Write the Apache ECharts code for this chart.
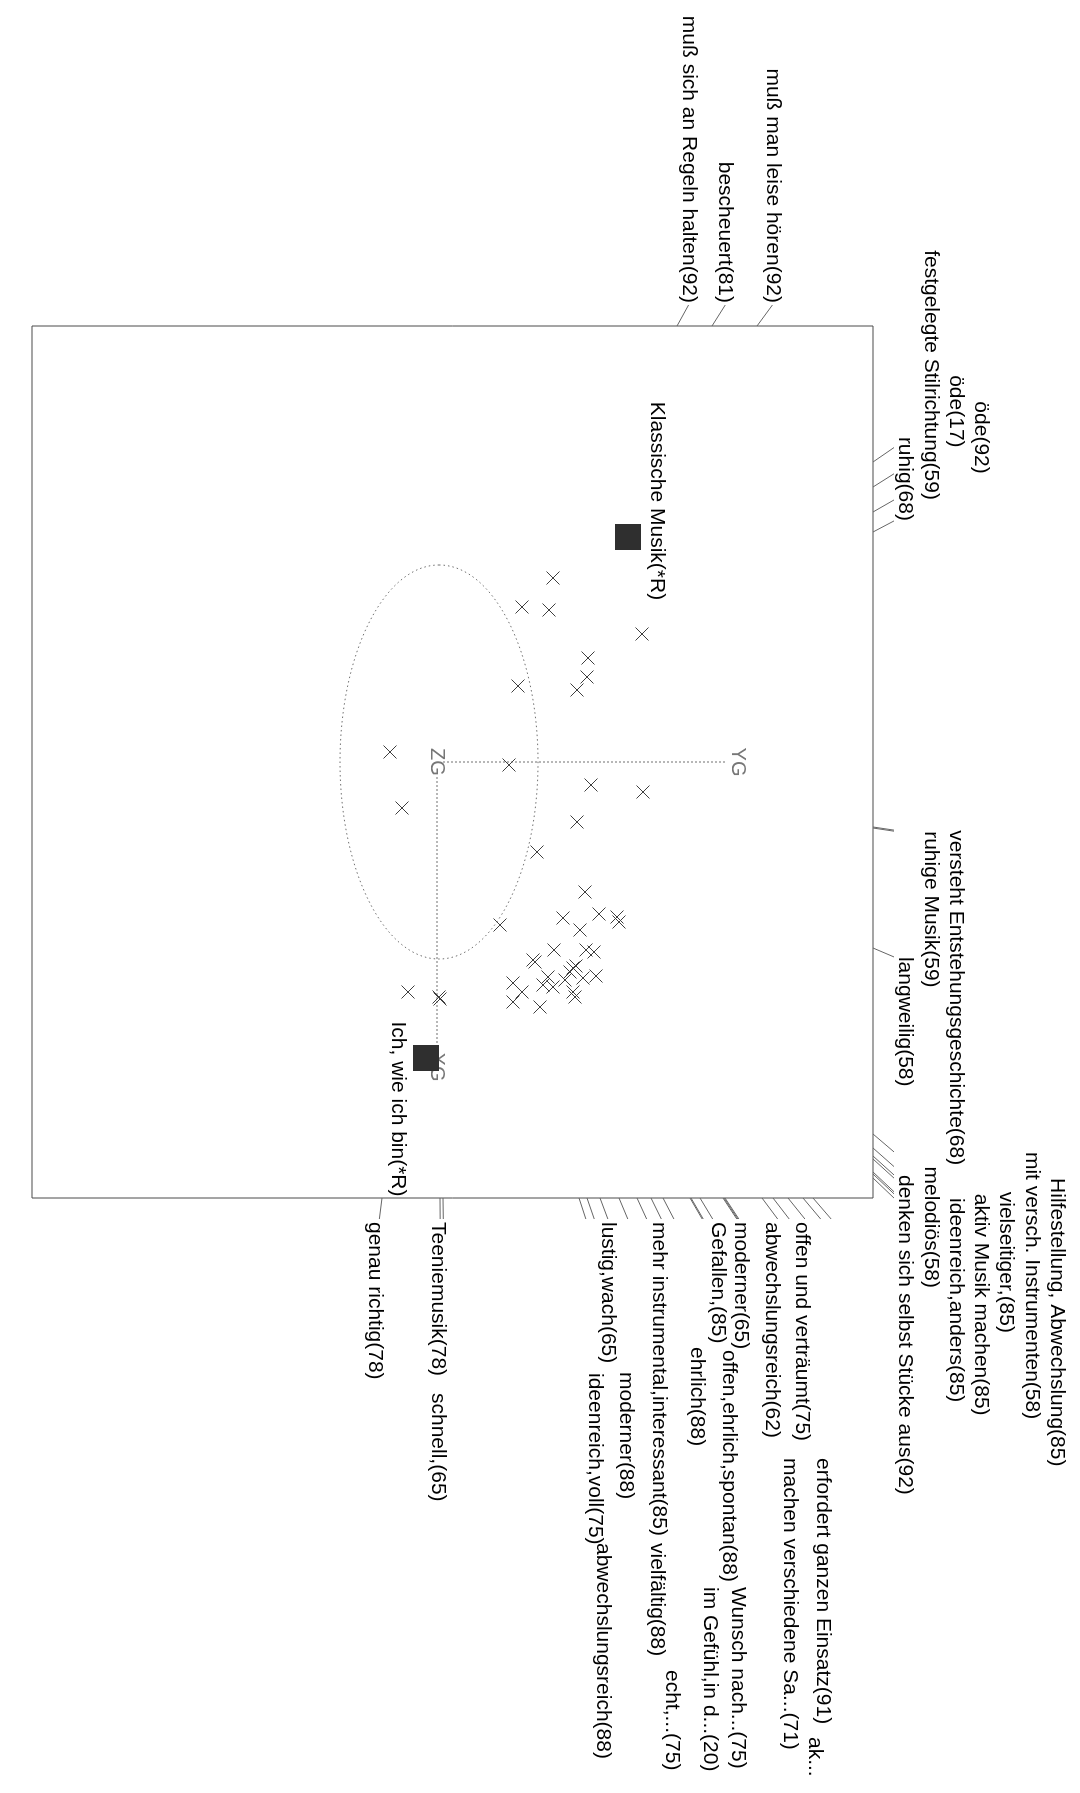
<!DOCTYPE html>
<html>
<head>
<meta charset="utf-8">
<title>Repertory grid – Musik</title>
<script src="https://cdn.jsdelivr.net/npm/echarts@6/dist/echarts.min.js"></script>
<style>
  html, body { margin: 0; padding: 0; background: #ffffff; overflow: hidden; width: 1080px; height: 1793px; }
  /* the plot is laid out landscape and turned a quarter clockwise onto the portrait page */
  #chart { position: absolute; left: 1080px; top: 0; width: 1793px; height: 1080px;
           transform-origin: 0 0; transform: rotate(90deg); }
</style>
</head>
<body>
<div id="chart"></div>
<script>
// ---- data -------------------------------------------------------------

// extent of the frame, in axis units
const frameX = 4.36;
const frameTop = 4.36;
const frameBottom = -4.05;

// elements (marked with *R)
const elementNames = ['Klassische Musik(*R)', 'Ich, wie ich bin(*R)'];
const elementX = [-2.25, 2.96];
const elementY = [1.91, -0.11];

// constructs, drawn as crosses
const constructX = [-1.84, -1.55, -1.52, -1.28, -1.04, -0.85, -0.72, -0.76, 0.03, 0.23,
                    0.30, 0.60, 0.90, 1.30, 1.56, 1.52, 1.55, 1.60, 1.68, 1.88,
                    1.88, 1.90, 1.98, 2.00, 2.06, 2.15, 2.18, 2.16, 2.14, 2.23,
                    2.25, 2.30, 2.35, 2.21, 2.30, 2.40, 2.45, 1.63, -0.10, 0.46,
                    2.30, 2.35, 2.37, 2.10, 2.04];
const constructY = [1.16, 0.85, 1.12, 2.05, 1.51, 1.50, 1.40, 0.81, 0.72, 1.54,
                    2.06, 1.40, 1.00, 1.48, 1.26, 1.62, 1.80, 1.82, 1.43, 1.17,
                    1.49, 1.57, 0.96, 0.98, 1.36, 1.11, 1.28, 1.46, 1.59, 1.06,
                    1.16, 1.36, 1.38, 0.76, 0.85, 0.76, 1.03, 0.63, -0.47, -0.35,
                    -0.29, 0.02, 0.03, 1.33, 1.39];

// reference points
const refNames = ['ZG', 'YG', 'XG'];
const refX = [0, 0, 3.05];
const refY = [0, 3.01, 0];

// ellipse around the zero point
const ellipseCentre = [0, 0.02];
const ellipseRadius = [1.97, 0.99];

// construct poles: label, frame side their ray leaves through, and where it meets that side
const poleNames = [
  'muß sich an Regeln halten(92)', 'bescheuert(81)', 'muß man leise hören(92)',
  'öde(17)', 'öde(92)', 'festgelegte Stilrichtung(59)', 'ruhig(68)',
  'versteht Entstehungsgeschichte(68)', 'ruhige Musik(59)', 'langweilig(58)',
  'mit versch. Instrumenten(58)', 'melodiös(58)', 'denken sich selbst Stücke aus(92)',
  'Hilfestellung, Abwechslung(85)', 'vielseitiger,(85)', 'aktiv Musik machen(85)',
  'ideenreich,anders(85)',
  'genau richtig(78)', 'Teeniemusik(78)', 'schnell,(65)', 'ideenreich,voll(75)',
  'abwechslungsreich(88)', 'lustig,wach(65)', 'moderner(88)', 'vielfältig(88)',
  'mehr instrumental,interessant(85)', 'echt,...(75)', 'ehrlich(88)',
  'im Gefühl,in d...(20)', 'Gefallen,(85)', 'offen,ehrlich,spontan(88)',
  'Wunsch nach...(75)', 'moderner(65)', 'abwechslungsreich(62)',
  'machen verschiedene Sa...(71)', 'offen und verträumt(75)', 'ak...',
  'erfordert ganzen Einsatz(91)'
];
const poleSide = [
  'left', 'left', 'left',
  'top', 'top', 'top', 'top', 'top', 'top', 'top', 'top', 'top', 'top', 'top', 'top', 'top', 'top',
  'right', 'right', 'right', 'right', 'right', 'right', 'right', 'right', 'right', 'right',
  'right', 'right', 'right', 'right', 'right', 'right', 'right', 'right', 'right', 'right', 'right'
];
const poleHit = [
  2.40, 2.75, 3.20,
  -3.00, -2.75, -2.50, -2.30, 0.65, 0.66, 1.86, 3.72, 3.86, 3.94, 3.97, 4.10, 4.12, 4.16,
  -0.55, 0.03, 0.06, 1.42, 1.50, 1.63, 1.82, 2.00, 2.14, 2.26, 2.53, 2.54, 2.63,
  2.86, 2.87, 2.88, 3.25, 3.36, 3.51, 3.66, 3.76
];

// ---- label placement (layout only) -----------------------------------
// top side: text row counted outward from the frame;
// right side: [line centre, text start] in axis units
const poleTextPlace = [
  null, null, null,
  3, 4, 2, 1, 3, 2, 1, 6, 2, 1, 7, 5, 4, 3,
  [-0.62, 4.60], [0.01, 4.60], [0.01, 6.31], [1.58, 6.11], [1.66, 7.81],
  [1.71, 4.60], [1.89, 6.10], [2.20, 7.81], [2.22, 4.60], [2.35, 9.08],
  [2.60, 5.85], [2.73, 8.25], [2.81, 4.60], [2.92, 5.88], [3.01, 8.25],
  [3.04, 4.60], [3.35, 4.60], [3.53, 6.96], [3.65, 4.60], [3.78, 9.75],
  [3.86, 6.96]
];
const elementLabelPos = ['top', 'bottom'];
const elementLabelShift = [[-36, 0], [51, 0]];

// ---- drawing ----------------------------------------------------------
const FONT = '"Liberation Sans", Arial, Helvetica, sans-serif';
const TEXT_SIZE = 21;
const TEXT_COLOR = '#000000';
const STUB = 21;          // how far a construct ray runs past the frame
const ROW_FIRST = 32;     // first text row above the frame
const ROW_STEP = 25.3;    // spacing of text rows

function textEl(str, x, y, align, fill, size) {
  return {
    type: 'text', silent: true,
    style: {
      text: str, x: x, y: y,
      align: align, verticalAlign: 'middle',
      textAlign: align, textVerticalAlign: 'middle',
      fill: fill, fontSize: size, fontFamily: FONT
    }
  };
}

function renderCross(params, api) {
  const p = api.coord([api.value(0), api.value(1)]);
  const h = 6.5;
  const st = { stroke: '#3f3f3f', lineWidth: 1 };
  return {
    type: 'group', children: [
      { type: 'line', silent: true, shape: { x1: p[0] - h, y1: p[1] - h, x2: p[0] + h, y2: p[1] + h }, style: st },
      { type: 'line', silent: true, shape: { x1: p[0] - h, y1: p[1] + h, x2: p[0] + h, y2: p[1] - h }, style: st }
    ]
  };
}

function renderEllipse(params, api) {
  const c = api.coord([api.value(0), api.value(1)]);
  const s = api.size([ellipseRadius[0], ellipseRadius[1]]);
  return {
    type: 'ellipse', silent: true,
    shape: { cx: c[0], cy: c[1], rx: s[0], ry: s[1] },
    style: { fill: 'none', stroke: '#707070', lineWidth: 1, lineDash: [1.5, 3] }
  };
}

function renderRefLine(params, api) {
  const a = api.coord([refX[0], refY[0]]);
  const b = api.coord([api.value(0), api.value(1)]);
  const dx = b[0] - a[0], dy = b[1] - a[1];
  const len = Math.sqrt(dx * dx + dy * dy);
  const horiz = Math.abs(dx) > Math.abs(dy);
  const g0 = horiz ? 15 : 6, g1 = horiz ? 17 : 13;
  const ux = dx / len, uy = dy / len;
  return {
    type: 'line', silent: true,
    shape: { x1: a[0] + ux * g0, y1: a[1] + uy * g0, x2: b[0] - ux * g1, y2: b[1] - uy * g1 },
    style: { stroke: '#707070', lineWidth: 1, lineDash: [2, 2] }
  };
}

function renderRefName(params, api) {
  const p = api.coord([api.value(0), api.value(1)]);
  return textEl(refNames[params.dataIndex], p[0], p[1], 'center', '#777777', 20);
}

function renderPole(params, api) {
  const i = params.dataIndex;
  const side = poleSide[i];
  const hit = api.coord([api.value(0), api.value(1)]);
  const c = api.coord([0, 0]);
  const dx = hit[0] - c[0], dy = hit[1] - c[1];
  const t = STUB / Math.abs(side === 'top' ? dy : dx);
  const end = [hit[0] + dx * t, hit[1] + dy * t];
  const children = [{
    type: 'line', silent: true,
    shape: { x1: hit[0], y1: hit[1], x2: end[0], y2: end[1] },
    style: { stroke: '#666666', lineWidth: 1 }
  }];
  let tx, ty, align;
  if (side === 'left') {
    tx = end[0] - 2; ty = end[1]; align = 'right';
  } else if (side === 'top') {
    const row = poleTextPlace[i];
    tx = end[0];
    ty = hit[1] - ROW_FIRST - (row - 1) * ROW_STEP;
    align = api.value(0) < 0 ? 'right' : 'left';
  } else {
    const place = poleTextPlace[i];
    const p = api.coord([place[1], place[0]]);
    tx = p[0]; ty = p[1]; align = 'left';
  }
  children.push(textEl(poleNames[i], tx, ty, align, TEXT_COLOR, TEXT_SIZE));
  return { type: 'group', children: children };
}

const poleData = poleNames.map(function (n, i) {
  const side = poleSide[i];
  if (side === 'left') return [-frameX, poleHit[i]];
  if (side === 'right') return [frameX, poleHit[i]];
  return [poleHit[i], frameTop];
});

const elementData = elementNames.map(function (n, i) {
  return {
    name: n,
    value: [elementX[i], elementY[i]],
    label: { position: elementLabelPos[i], offset: elementLabelShift[i] }
  };
});

const chart = echarts.init(document.getElementById('chart'), null,
  { renderer: 'canvas', width: 1793, height: 1080 });

chart.setOption({
  animation: false,
  backgroundColor: '#ffffff',
  textStyle: { fontFamily: FONT },
  grid: {
    left: 326, top: 207, width: 872, height: 841,
    show: true, borderColor: '#4a4a4a', borderWidth: 1, backgroundColor: 'transparent'
  },
  xAxis: { type: 'value', min: -frameX, max: frameX, show: false },
  yAxis: { type: 'value', min: frameBottom, max: frameTop, show: false },
  series: [
    {
      type: 'custom', name: 'Ellipse', z: 1, silent: true,
      renderItem: renderEllipse,
      data: [ellipseCentre]
    },
    {
      type: 'custom', name: 'Achsen', z: 2, silent: true,
      renderItem: renderRefLine,
      data: [[refX[1], refY[1]], [refX[2], refY[2]]]
    },
    {
      type: 'custom', name: 'Bezugspunkte', z: 3, silent: true,
      renderItem: renderRefName,
      data: refNames.map(function (n, i) { return [refX[i], refY[i]]; })
    },
    {
      type: 'custom', name: 'Konstrukte', z: 4, silent: true,
      renderItem: renderCross,
      data: constructX.map(function (x, i) { return [x, constructY[i]]; })
    },
    {
      type: 'scatter', name: 'Elemente', z: 5, silent: true,
      symbol: 'rect', symbolSize: 26,
      itemStyle: { color: '#2f2f2f', opacity: 1 },
      label: {
        show: true, formatter: '{b}', distance: 5,
        color: TEXT_COLOR, fontSize: TEXT_SIZE, fontFamily: FONT
      },
      data: elementData
    },
    {
      type: 'custom', name: 'Pole', z: 6, silent: true, clip: false,
      renderItem: renderPole,
      data: poleData
    }
  ]
});
</script>
</body>
</html>
